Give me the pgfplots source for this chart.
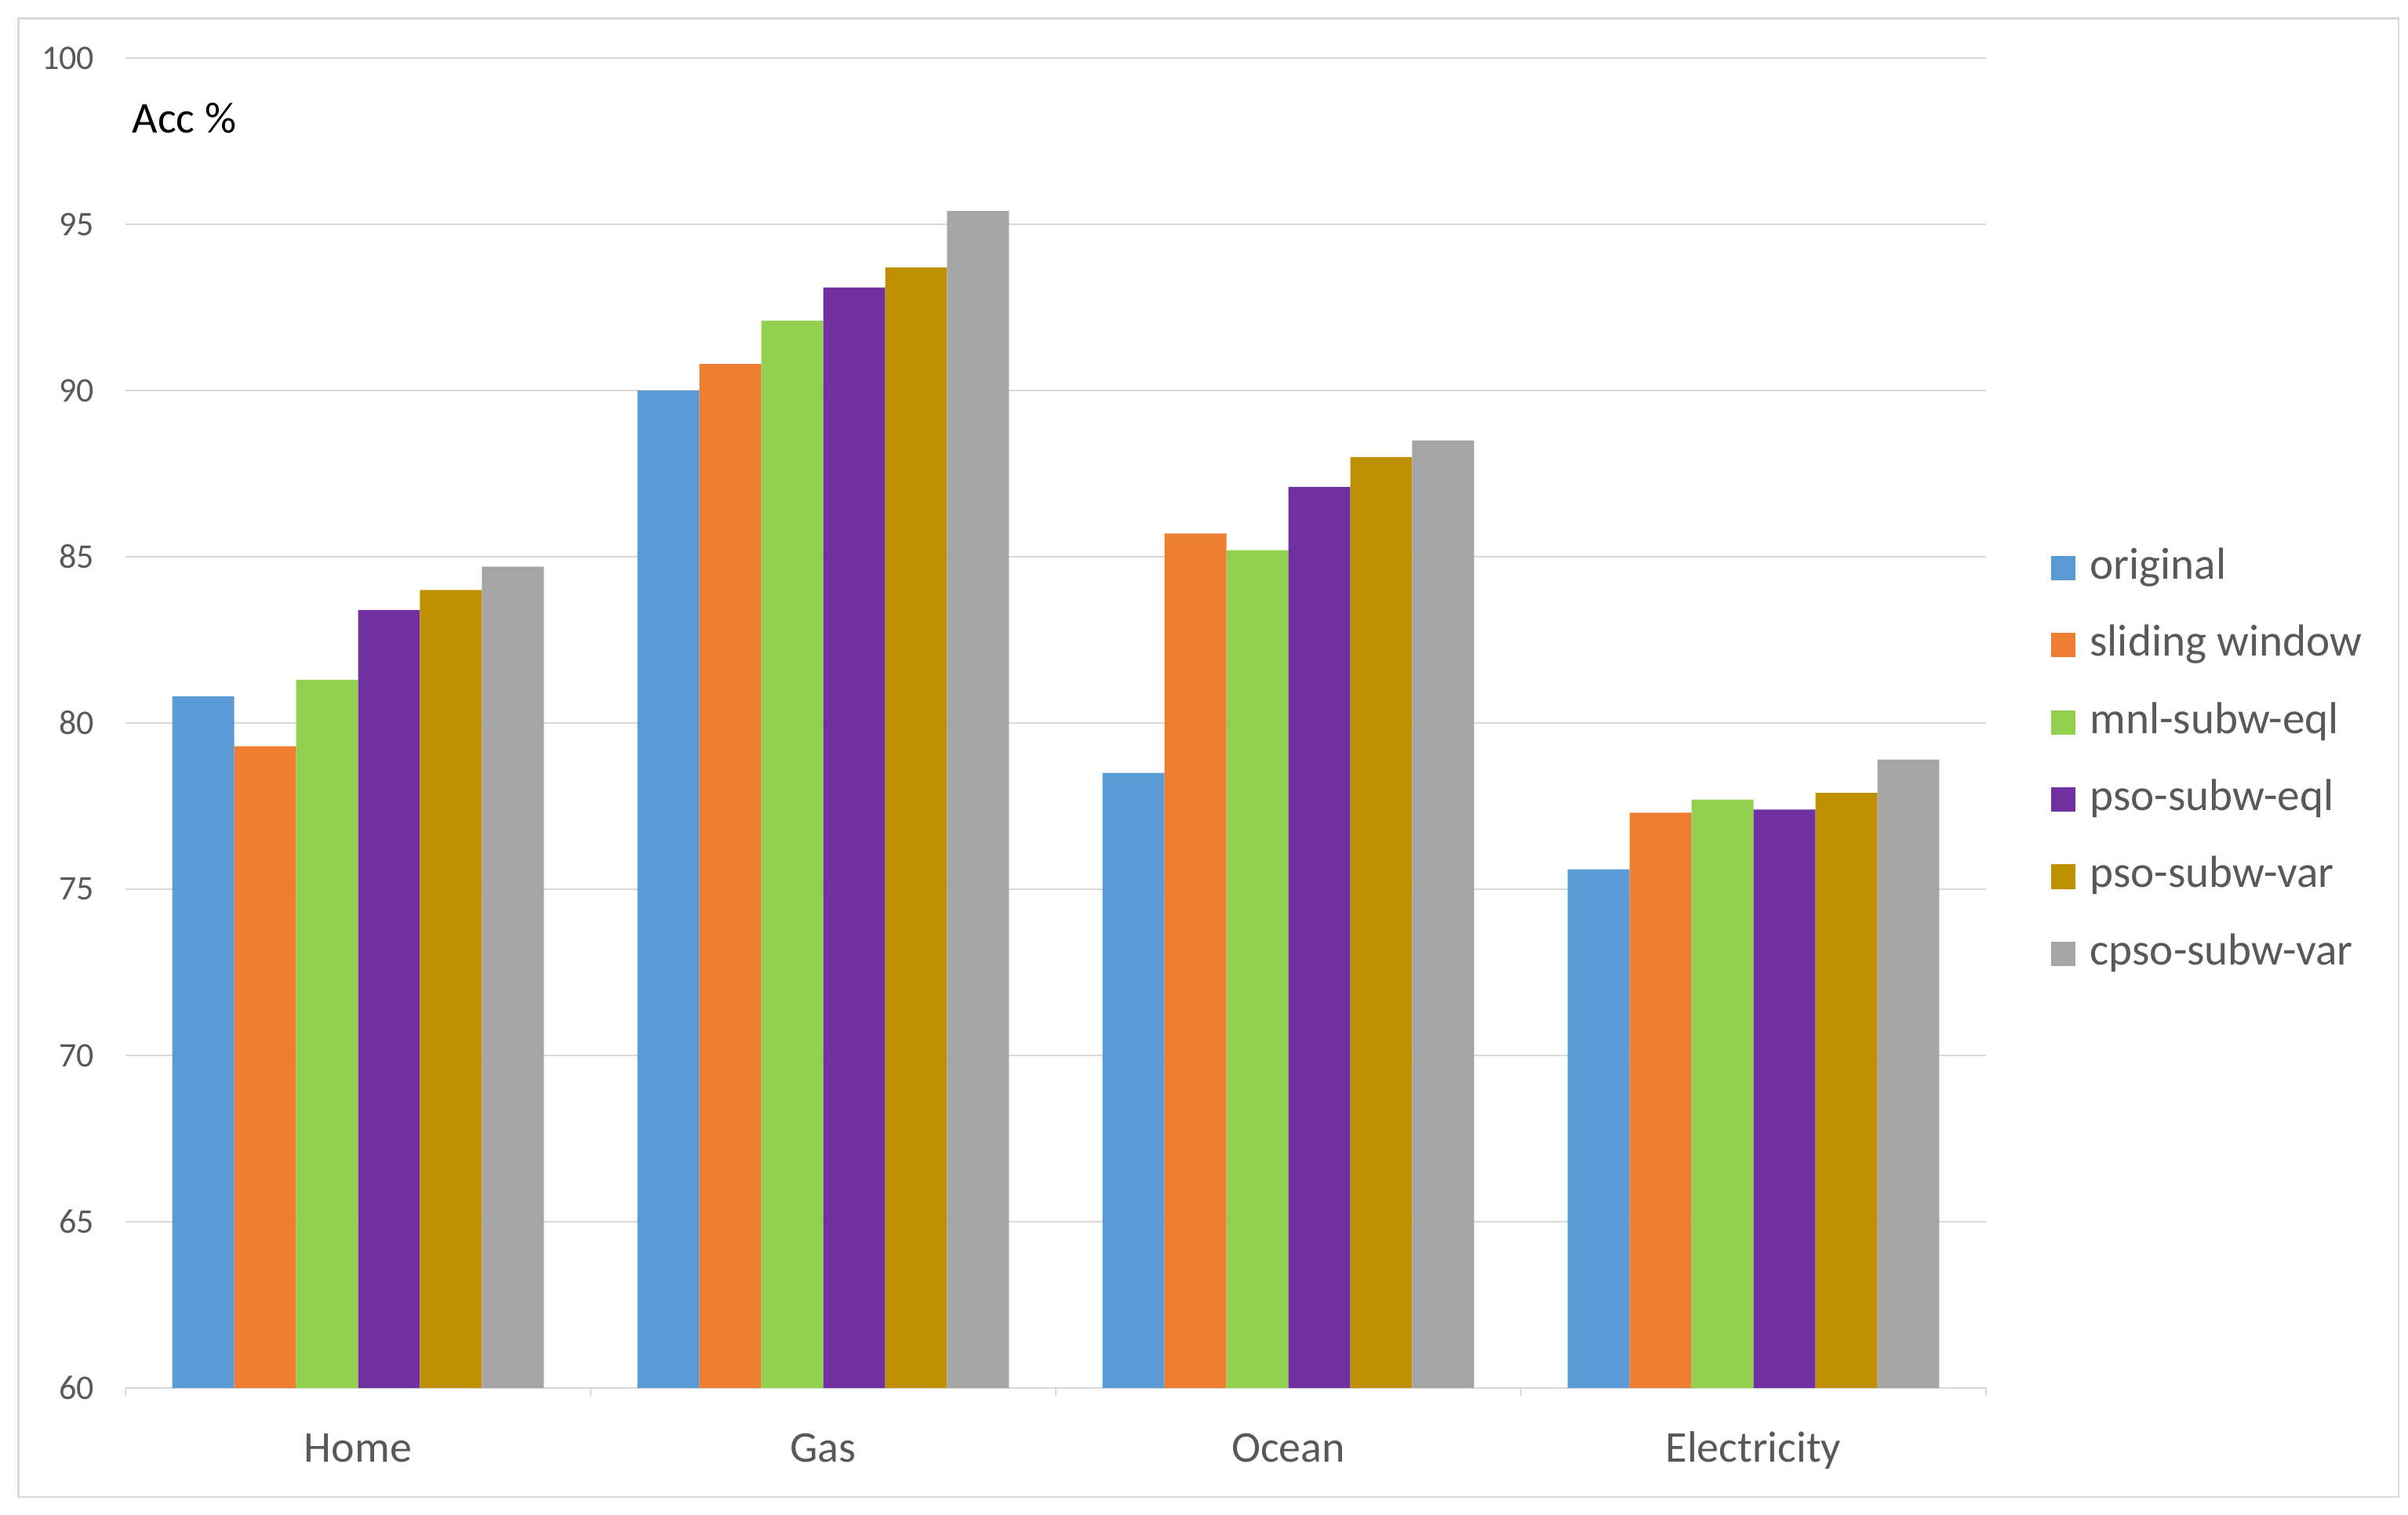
\documentclass[border=0pt]{standalone}
\usepackage{pgfplots}
\pgfplotsset{compat=1.18}
\usepackage{fontspec}
\setmainfont{Carlito}
\definecolor{c1}{HTML}{5B9BD5}
\definecolor{c2}{HTML}{ED7D31}
\definecolor{c3}{HTML}{92D050}
\definecolor{c4}{HTML}{7030A0}
\definecolor{c5}{HTML}{BF9000}
\definecolor{c6}{HTML}{A5A5A5}
\definecolor{gridc}{HTML}{D9D9D9}
\definecolor{tickc}{HTML}{595959}
\begin{document}
\begin{tikzpicture}[x=1pt,y=1pt]
\path[use as bounding box] (-40pt,-40.25pt) rectangle (727.5pt,442.5pt);
\draw[gridc, line width=0.6pt] (-34.1pt,-34.75pt) rectangle (724.5pt,436.6pt);
\begin{axis}[
  at={(0pt,0pt)}, anchor=south west, scale only axis,
  width=593pt, height=424pt,
  xmin=-0.5, xmax=3.5, ymin=60, ymax=100,
  ytick={60,65,...,100},
  xtick={0,1,2,3}, xticklabels={Home,Gas,Ocean,Electricity},
  /pgf/number format/assume math mode=true,
  ymajorgrids, grid style={draw=gridc, line width=0.6pt},
  axis x line*=bottom, axis y line*=left,
  y axis line style={draw=none},
  x axis line style={draw=gridc, line width=0.6pt, -},
  major tick length=0pt,
  ytick style={draw=none},
  extra x ticks={-0.5,0.5,1.5,2.5,3.5}, extra x tick labels={},
  extra x tick style={major tick length=2.5pt, tick align=outside, xmajorgrids=false, tick style={draw=gridc, line width=0.6pt}},
  yticklabel style={font=\fontsize{11}{13}\selectfont, text=tickc, inner sep=0pt, anchor=east, xshift=-9.75pt},
  xticklabel style={font=\fontsize{14}{16}\selectfont, text=tickc, inner sep=0pt, anchor=base, yshift=-23.5pt},
  ybar, bar width=0.1332,
  every axis plot/.append style={draw=none},
  legend style={at={(1.0346,0.4715)}, anchor=west, draw=none, fill=none, inner sep=0pt,
    font=\fontsize{14.3}{16}\selectfont, text=tickc, row sep=11.6pt, column sep=4.6pt,
    nodes={inner sep=0pt, anchor=west, text height=10pt, text depth=3pt}},
  legend cell align=left,
  legend image code/.code={\fill[#1] (0pt,-3.9pt) rectangle (7.8pt,3.9pt);},
]
\addplot[fill=c1, bar shift=-0.333] coordinates {(0,80.8) (1,90.0) (2,78.5) (3,75.6)};
\addplot[fill=c2, bar shift=-0.1998] coordinates {(0,79.3) (1,90.8) (2,85.7) (3,77.3)};
\addplot[fill=c3, bar shift=-0.0666] coordinates {(0,81.3) (1,92.1) (2,85.2) (3,77.7)};
\addplot[fill=c4, bar shift=0.0666] coordinates {(0,83.4) (1,93.1) (2,87.1) (3,77.4)};
\addplot[fill=c5, bar shift=0.1998] coordinates {(0,84.0) (1,93.7) (2,88.0) (3,77.9)};
\addplot[fill=c6, bar shift=0.333] coordinates {(0,84.7) (1,95.4) (2,88.5) (3,78.9)};
\legend{original,sliding window,mnl-subw-eql,pso-subw-eql,pso-subw-var,cpso-subw-var}
\end{axis}
\node[anchor=west, inner sep=0pt, font=\fontsize{14}{16}\selectfont] at (2pt,404.75pt) {Acc \%};
\end{tikzpicture}
\end{document}
